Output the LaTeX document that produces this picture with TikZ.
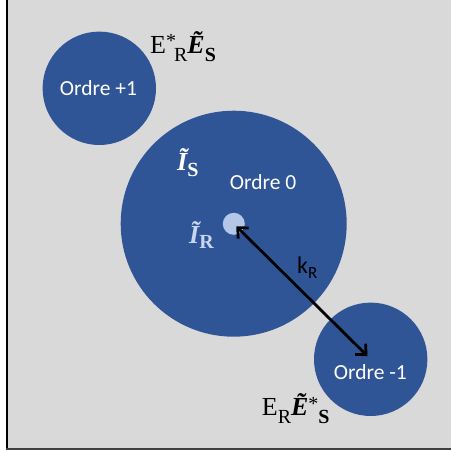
\documentclass[tikz,border=0pt]{standalone}
\usepackage{fontspec}
\setmainfont{Liberation Serif}
\newfontfamily\calib{Carlito}
\usetikzlibrary{arrows.meta}
\definecolor{bg}{HTML}{D9D9D9}
\definecolor{disk}{HTML}{2F5597}
\definecolor{lightdisk}{HTML}{B4C7E7}
\definecolor{lighttext}{HTML}{C8D5EE}
\begin{document}
\begin{tikzpicture}[x=1pt,y=-1pt,
  disc/.style={circle,fill=disk,inner sep=0pt,minimum size=#1},
  ordre/.style={text=white,font=\calib\fontsize{21.5}{21.5}\selectfont,inner sep=0pt,anchor=base},
  lab/.style={inner sep=0pt,anchor=base west},
  barb/.tip={Straight Barb[length=8pt,width=15pt]}]
\useasboundingbox (0,0) rectangle (451,450);
\fill[white] (0,0) rectangle (451,450);
\fill[bg] (7,0) rectangle (451,448);
\draw[black,line width=2pt] (7,0) -- (7,449);
\draw[black!75,line width=2pt] (6,449) -- (451,449);

\node[disc=113.4pt] (p1) at (99.3,88.3) {};
\node[disc=226pt] (o0) at (233.7,223.7) {};
\node[disc=22pt,fill=lightdisk] (ir) at (233.8,223.8) {};
\node[disc=113.4pt] (m1) at (370.7,359.3) {};

\node[ordre] (t1) at (98.5,95) {Ordre +1};
\node[ordre] (t0) at (263,189) {Ordre 0};
\node[ordre] (tm1) at (370.3,379.3) {Ordre -1};

\node[lab] (kr) at (297,273.3) {\calib\fontsize{24}{24}\selectfont k\raisebox{-5pt}{\fontsize{17}{17}\selectfont R}};

\node[lab,text=white] (is) at (177,170) {\fontsize{26}{26}\selectfont\bfseries\itshape \~I\raisebox{-6pt}{\fontsize{20}{20}\selectfont\upshape S}};
\node[lab,text=lighttext] (irl) at (189,243.3) {\fontsize{26}{26}\selectfont\bfseries\itshape \~I\raisebox{-5pt}{\fontsize{20}{20}\selectfont\upshape R}};

\node[lab] (etop) at (150,53.3) {\fontsize{26}{26}\selectfont E\raisebox{5.5pt}{\fontsize{20}{20}\selectfont *}\kern-2pt\raisebox{-8.4pt}{\fontsize{20}{20}\selectfont R}\textbf{\textit{\~E}}\raisebox{-8.4pt}{\fontsize{20}{20}\selectfont\bfseries S}};

\node[lab] (ebot) at (261.7,415) {\fontsize{26}{26}\selectfont E\raisebox{-8.3pt}{\fontsize{20}{20}\selectfont R}\textbf{\textit{\~E}}\raisebox{4.3pt}{\fontsize{20}{20}\selectfont *}\raisebox{-8.3pt}{\fontsize{20}{20}\selectfont\bfseries S}};

\draw[line width=2.8pt,barb-barb,shorten <=3.5pt,shorten >=4.5pt] (ir.center) -- (m1.center);
\end{tikzpicture}
\end{document}
